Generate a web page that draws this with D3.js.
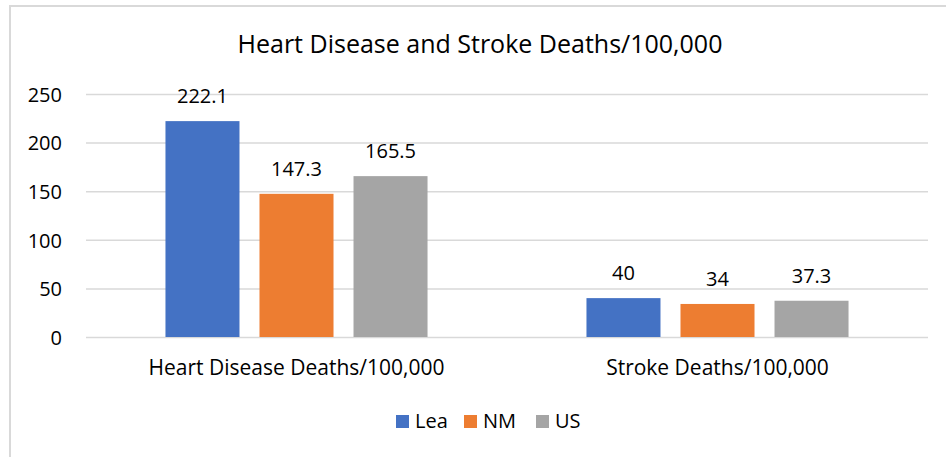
<!DOCTYPE html>
<html>
<head>
<meta charset="utf-8">
<script src="https://cdn.jsdelivr.net/npm/d3@7"></script>
<style>
  body { margin: 0; background: #fff; }
  svg text { font-family: "Open Sans", "Noto Sans", sans-serif; fill: #000; }
</style>
</head>
<body>
<svg id="chart"></svg>
<script>
// data
var categories = ["Heart Disease Deaths/100,000", "Stroke Deaths/100,000"];
var seriesNames = ["Lea", "NM", "US"];
var lea = [222.1, 40];
var nm = [147.3, 34];
var us = [165.5, 37.3];
var yTicks = [0, 50, 100, 150, 200, 250];
var colors = ["#4472C4", "#ED7D31", "#A5A5A5"];

var svgWidth = 946;
var svgHeight = 457;

var margin = { top: 94, right: 18, bottom: 120, left: 86 };
var width = svgWidth - margin.left - margin.right;
var height = svgHeight - margin.top - margin.bottom;

var svg = d3.select("#chart")
  .attr("width", svgWidth)
  .attr("height", svgHeight);

// chart border (Excel style frame)
svg.append("rect")
  .attr("x", 10)
  .attr("y", 6)
  .attr("width", 960)
  .attr("height", 500)
  .attr("fill", "none")
  .attr("stroke", "#d9d9d9")
  .attr("stroke-width", 2);

// title
svg.append("text")
  .attr("x", 480)
  .attr("y", 53)
  .attr("text-anchor", "middle")
  .style("font-size", "25px")
  .text("Heart Disease and Stroke Deaths/100,000");

var chartGroup = svg.append("g")
  .attr("transform", `translate(${margin.left}, ${margin.top})`);

var table = categories.map(function(c, i) {
  return { cat: c, values: [lea[i], nm[i], us[i]] };
});

var x0 = d3.scaleBand()
  .domain(categories)
  .range([0, width])
  .paddingInner(0.33)
  .paddingOuter(0.165);

var x1 = d3.scaleBand()
  .domain(seriesNames)
  .range([0, x0.bandwidth()])
  .paddingInner(0.2128)
  .paddingOuter(0.1064);

var y = d3.scaleLinear()
  .domain([0, 250])
  .range([height, 0]);

// gridlines
var yAxis = d3.axisLeft(y).tickValues(yTicks).tickSize(-width).tickPadding(24);
var yg = chartGroup.append("g").call(yAxis);
yg.select(".domain").remove();
yg.selectAll(".tick line").attr("stroke", "#d9d9d9").attr("stroke-width", 1.5);
yg.selectAll(".tick text")
  .style("font-size", "20px")
  .attr("dy", "0.36em");

// bars
var groups = chartGroup.selectAll(".grp")
  .data(table)
  .enter()
  .append("g")
  .attr("class", "grp")
  .attr("transform", d => `translate(${x0(d.cat)}, 0)`);

groups.selectAll("rect")
  .data(d => d.values.map((v, i) => ({ name: seriesNames[i], value: v, color: colors[i] })))
  .enter()
  .append("rect")
  .attr("x", d => x1(d.name))
  .attr("y", d => y(d.value))
  .attr("width", x1.bandwidth())
  .attr("height", d => height - y(d.value))
  .attr("fill", d => d.color);

groups.selectAll(".lbl")
  .data(d => d.values.map((v, i) => ({ name: seriesNames[i], value: v })))
  .enter()
  .append("text")
  .attr("class", "lbl")
  .attr("x", d => x1(d.name) + x1.bandwidth() / 2)
  .attr("y", d => y(d.value) - 18)
  .attr("text-anchor", "middle")
  .style("font-size", "20px")
  .text(d => d.value);

// category labels
chartGroup.selectAll(".cat")
  .data(categories)
  .enter()
  .append("text")
  .attr("class", "cat")
  .attr("x", d => x0(d) + x0.bandwidth() / 2)
  .attr("y", height + 38)
  .attr("text-anchor", "middle")
  .style("font-size", "21px")
  .text(d => d);

// legend
var legendX = [396, 464, 536];
var legend = svg.selectAll(".leg")
  .data(seriesNames)
  .enter()
  .append("g")
  .attr("class", "leg")
  .attr("transform", (d, i) => `translate(${legendX[i]}, 415)`);

legend.append("rect")
  .attr("width", 13)
  .attr("height", 13)
  .attr("fill", (d, i) => colors[i]);

legend.append("text")
  .attr("x", 19)
  .attr("y", 13)
  .style("font-size", "20px")
  .text(d => d);
</script>
</body>
</html>
